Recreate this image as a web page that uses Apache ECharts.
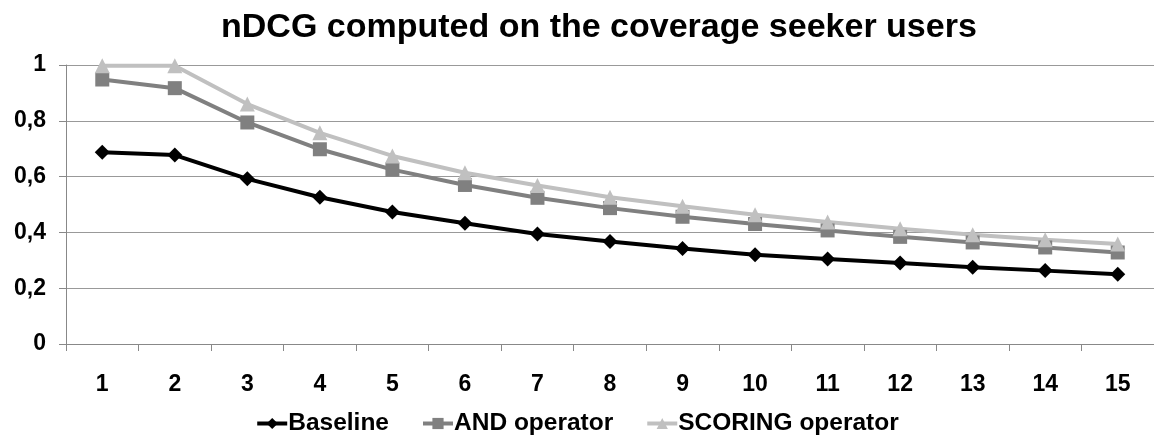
<!DOCTYPE html>
<html><head><meta charset="utf-8">
<script src="https://cdn.jsdelivr.net/npm/echarts@6/dist/echarts.min.js"></script>
<style>html,body{margin:0;padding:0;background:#fff}#c{width:1154px;height:443px}</style>
</head><body><div id="c"></div>
<script>
const categories = ['1','2','3','4','5','6','7','8','9','10','11','12','13','14','15'];
const baseline = [0.687,0.677,0.592,0.526,0.473,0.433,0.394,0.367,0.342,0.320,0.305,0.290,0.275,0.263,0.250];
const andOp = [0.948,0.917,0.794,0.698,0.625,0.570,0.524,0.487,0.456,0.430,0.407,0.384,0.364,0.346,0.328];
const scoring = [0.997,0.997,0.860,0.757,0.674,0.614,0.568,0.526,0.494,0.463,0.437,0.413,0.392,0.374,0.358];
const yTicks = [0,0.2,0.4,0.6,0.8,1];
const F = 'Liberation Sans, Arial, sans-serif';
const chart = echarts.init(document.getElementById('c'));
function ser(name, data, color, symbol, size){
  return {name, type:'line', data, symbol, symbolSize:size, showSymbol:true,
    lineStyle:{color, width:4}, itemStyle:{color}, z: 3};
}
chart.setOption({
  animation:false,
  title:{text:'nDCG computed on the coverage seeker users', left:216, top:6,
    textStyle:{fontFamily:F, fontWeight:'bold', fontSize:34, color:'#000'}},
  grid:{left:66, right:0, top:65, bottom:99, containLabel:false},
  legend:{bottom:2, left:'center', itemWidth:30, itemHeight:14, itemGap:32,
    lineStyle:{width:4},
    textStyle:{fontFamily:F, fontWeight:'bold', fontSize:24.5, color:'#000', padding:[0,0,0,-4]},
    data:['Baseline','AND operator','SCORING operator']},
  xAxis:{type:'category', data:categories, boundaryGap:true,
    axisLine:{lineStyle:{color:'#888', width:1}},
    axisTick:{show:true, length:7, lineStyle:{color:'#888'}},
    axisLabel:{fontFamily:F, fontWeight:'bold', fontSize:23, color:'#000', margin:29}},
  yAxis:{type:'value', min:0, max:1, interval:0.2,
    axisLine:{show:true, lineStyle:{color:'#888'}},
    axisTick:{show:true, length:7, lineStyle:{color:'#888'}},
    splitLine:{lineStyle:{color:'#999', width:1}},
    axisLabel:{fontFamily:F, fontWeight:'bold', fontSize:23, color:'#000', margin:20,
      formatter:v=>{const t=yTicks.find(x=>Math.abs(x-v)<1e-9); return String(t===undefined?v:t).replace('.',',');}}},
  series:[
    ser('Baseline', baseline, '#000000', 'diamond', 15),
    ser('AND operator', andOp, '#808080', 'rect', 14),
    ser('SCORING operator', scoring, '#c0c0c0', 'triangle', 15)
  ]
});
</script></body></html>
